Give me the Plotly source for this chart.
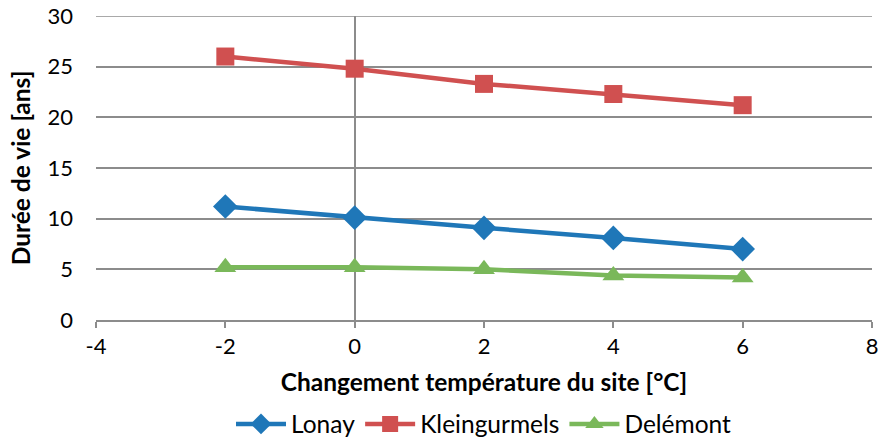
import plotly.graph_objects as go

x_vals = [-2, 0, 2, 4, 6]
lonay = [11.2, 10.1, 9.1, 8.1, 7.0]
kleingurmels = [26.0, 24.8, 23.3, 22.3, 21.2]
delemont = [5.2, 5.2, 5.0, 4.4, 4.2]
x_ticks = [-4, -2, 0, 2, 4, 6, 8]
x_tick_labels = ["-4", "-2", "0", "2", "4", "6", "8"]
y_max = 30

series = [
    ("Lonay", lonay, "#1F77B8", "diamond", 19),
    ("Kleingurmels", kleingurmels, "#D05050", "square", 18),
    ("Delémont", delemont, "#7AB85A", "triangle-up", 19),
]

FONT = "Lato"
GRID = "#8C8C8C"
fig = go.Figure()
for name, vals, color, sym, size in series:
    fig.add_trace(go.Scatter(
        x=x_vals, y=vals, name=name, mode="lines+markers",
        line=dict(color=color, width=4.5),
        marker=dict(symbol=sym, size=size, color=color),
    ))

# top gridline (plotly clips gridlines at the range ends)
fig.add_shape(type="line", xref="paper", x0=0, x1=1, yref="y", y0=y_max, y1=y_max,
              line=dict(color=GRID, width=1.5), layer="below")

fig.update_layout(
    width=880, height=439,
    margin=dict(l=96, r=8, t=16, b=119, autoexpand=False),
    plot_bgcolor="white", paper_bgcolor="white",
    font=dict(family=FONT, size=22, color="#000000"),
    showlegend=True,
    legend=dict(orientation="h", x=0.5, xanchor="center", y=-0.342, yanchor="middle",
                font=dict(size=24.5), tracegroupgap=0, itemwidth=50),
    xaxis=dict(
        range=[-4, 8], tickvals=x_ticks, ticktext=x_tick_labels,
        showgrid=False, automargin=False, ticklabeloverflow="allow",
        zeroline=True, zerolinecolor=GRID, zerolinewidth=1.5,
        showline=True, linecolor=GRID, linewidth=1.5,
        ticks="outside", ticklen=6, tickcolor=GRID, tickwidth=1.5,
        tickfont=dict(size=22),
        title=dict(text="<b>Changement température du site [°C]</b>", font=dict(size=24.5), standoff=16),
    ),
    yaxis=dict(
        range=[0, y_max], dtick=5, automargin=False, ticklabeloverflow="allow",
        showgrid=True, gridcolor=GRID, gridwidth=1.5,
        zeroline=False, showline=False,
        tickfont=dict(size=22), ticklabelstandoff=22,
        title=dict(text="<b>Durée de vie [ans]</b>", font=dict(size=24.5), standoff=9),
    ),
)

# remove the default page margin so the 880x439 figure fills the window exactly
fig.write_html("out.html", config={"displayModeBar": False},
               post_script="document.body.style.margin='0';document.body.style.overflow='hidden';")
